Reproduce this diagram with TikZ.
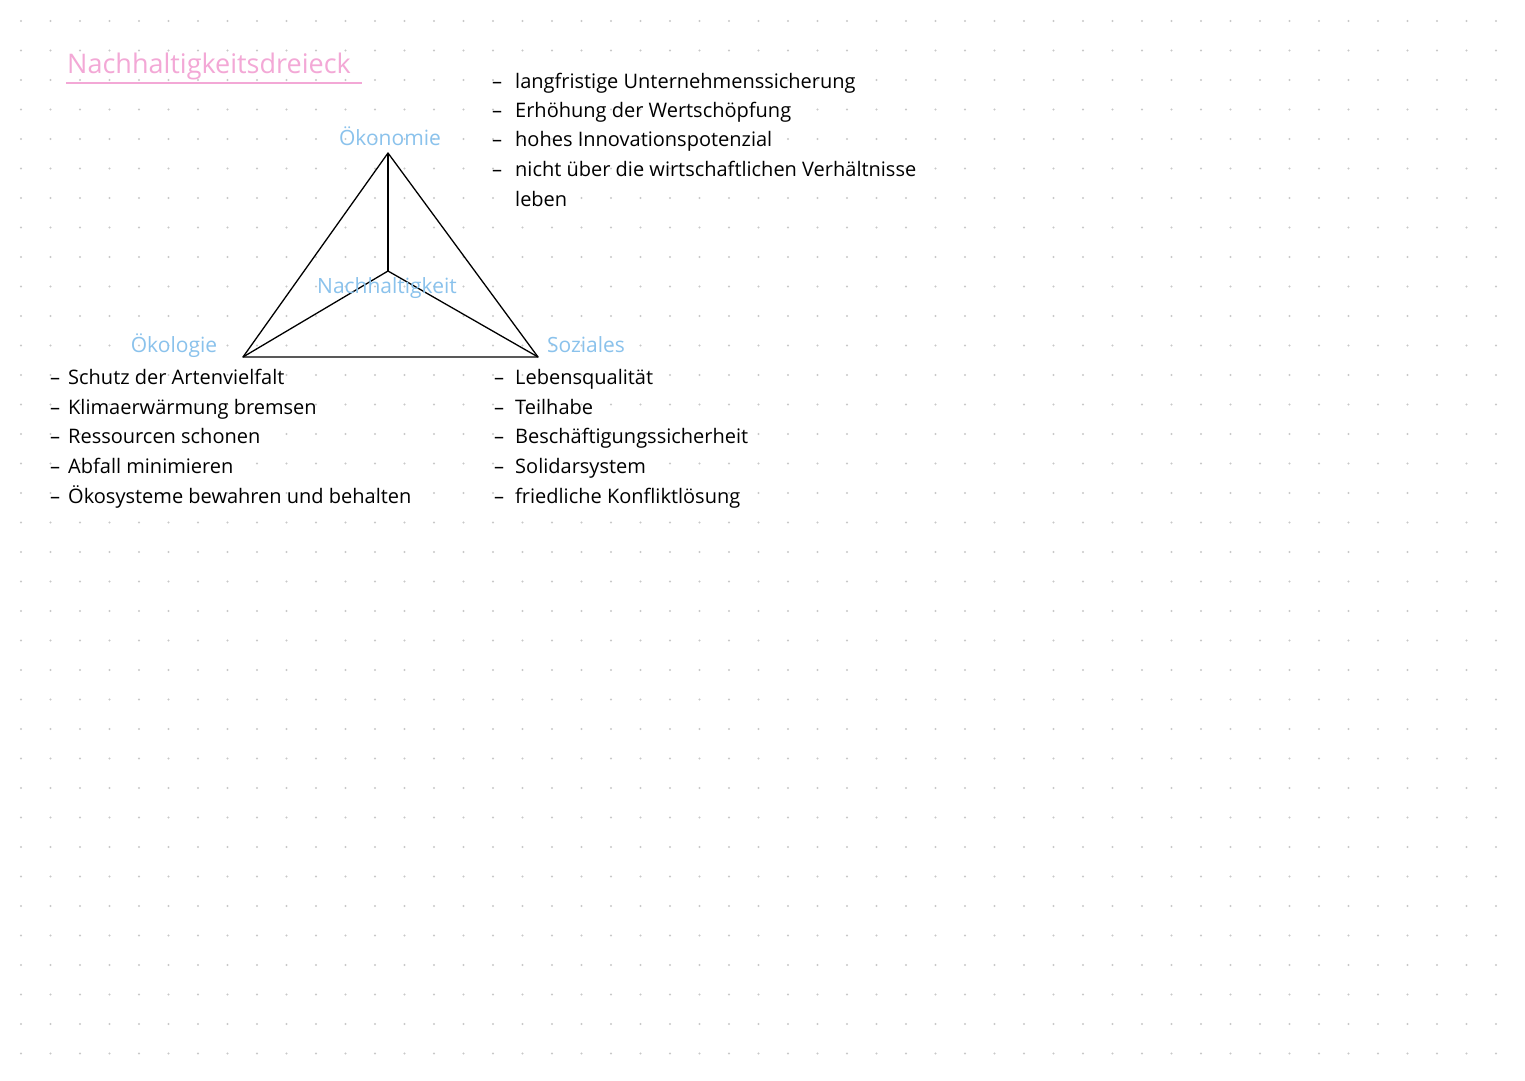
\documentclass[tikz,border=0pt]{standalone}
\usepackage{fontspec}
\setmainfont{Open Sans}
\definecolor{dotc}{RGB}{200,200,200}
\definecolor{pinkc}{RGB}{243,168,214}
\definecolor{bluec}{RGB}{138,194,236}
\tikzset{
  item/.style={anchor=west, inner sep=0pt, text height=15pt, text depth=5pt, font=\fontsize{20}{24}\selectfont, text=black},
  dashmark/.style={anchor=west, inner sep=0pt, text height=15pt, text depth=5pt, font=\fontsize{20}{24}\selectfont, text=black},
  label/.style={inner sep=0pt, text height=15pt, text depth=5pt, font=\fontsize{21}{25}\selectfont, text=bluec},
  edge/.style={draw=black, line width=1.3pt, line join=round}
}
\begin{document}
\begin{tikzpicture}[x=1pt,y=-1pt]
\useasboundingbox (0,0) rectangle (1525,1080);
\fill[white] (0,0) rectangle (1525,1080);
% dot grid
\foreach \i in {0,...,50}{
  \foreach \j in {0,...,35}{
    \fill[dotc] ({21+29.5*\i},{21+29.5*\j}) circle (1.1);
  }
}
% title
\node[anchor=west, inner sep=0pt, text height=20pt, text depth=6pt, font=\fontsize{27}{32}\selectfont, text=pinkc] (title) at (67,66) {Nachhaltigkeitsdreieck};
\coordinate (ulA) at (66,83);
\coordinate (ulB) at (362,83);
\draw[pinkc, line width=2pt] (ulA) -- (ulB);
% triangle
\coordinate (top) at (388,153);
\coordinate (bl) at (243,357);
\coordinate (br) at (538,357);
\coordinate (ctr) at (388,271);
\draw[edge] (top) -- (bl) -- (br) -- cycle;
\draw[edge] (top) -- (ctr);
\draw[edge] (ctr) -- (bl);
\draw[edge] (ctr) -- (br);
% labels
\node[label] (oek) at (390,140) {Ökonomie};
\node[label] (nach) at (387,288) {Nachhaltigkeit};
\node[label] (oeko) at (174,347) {Ökologie};
\node[label] (soz) at (586,347) {Soziales};
% top-right list
\foreach \y/\t in {83/langfristige Unternehmenssicherung, 112/Erhöhung der Wertschöpfung, 141/hohes Innovationspotenzial, 171/nicht über die wirtschaftlichen Verhältnisse}{
  \node[dashmark] at (492,\y) {–};
  \node[item] at (515,\y) {\t};
}
\node[item] (leben) at (515,201) {leben};
% left list
\foreach \y/\t in {379/Schutz der Artenvielfalt, 409/Klimaerwärmung bremsen, 438/Ressourcen schonen, 468/Abfall minimieren, 498/Ökosysteme bewahren und behalten}{
  \node[dashmark] at (50,\y) {–};
  \node[item] at (68,\y) {\t};
}
% right list
\foreach \y/\t in {379/Lebensqualität, 409/Teilhabe, 438/Beschäftigungssicherheit, 468/Solidarsystem, 498/friedliche Konfliktlösung}{
  \node[dashmark] at (494,\y) {–};
  \node[item] at (515,\y) {\t};
}
\end{tikzpicture}
\end{document}
